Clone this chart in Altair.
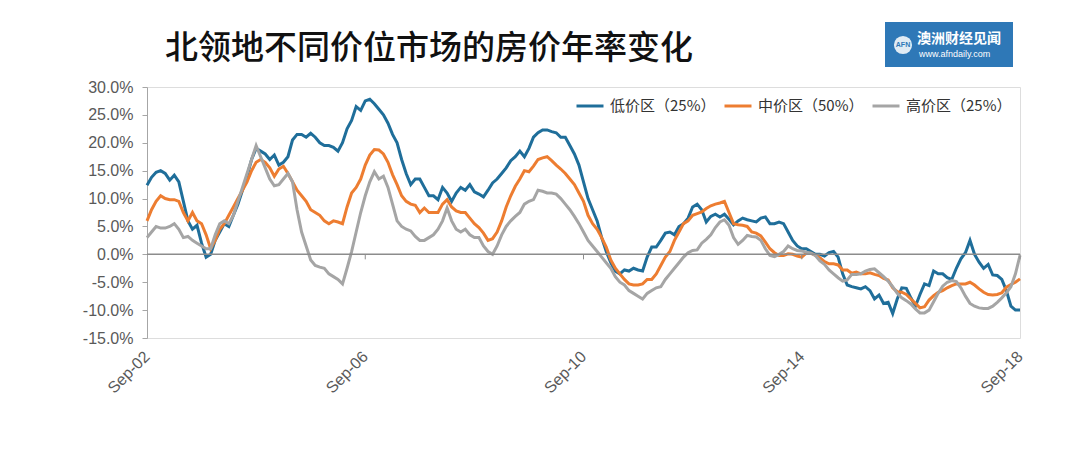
import altair as alt
import pandas as pd

# ---------------- data ----------------
series_names = ["低价区（25%）", "中价区（50%）", "高价区（25%）"]
series_colors = ["#1F6E9A", "#ED7D31", "#A5A5A5"]

x_tick_months = [0, 48, 96, 144, 192]
x_tick_labels = ["Sep-02", "Sep-06", "Sep-10", "Sep-14", "Sep-18"]
y_tick_values = [-15, -10, -5, 0, 5, 10, 15, 20, 25, 30]

# monthly values, Sep-02 .. Sep-18 (193 months), % y/y
low = [
    12.4, 13.8, 14.7, 15.0, 14.5, 13.3, 14.2, 13.0, 9.5, 6.0, 4.5, 5.2,
    2.0, -0.5, 0.0, 2.5, 4.0, 5.5, 5.0, 7.0, 9.0, 11.5, 14.0, 17.0,
    19.0, 18.5, 18.0, 17.0, 17.8, 16.0, 16.5, 17.5, 20.5, 21.5, 21.5, 21.0,
    21.7, 21.0, 20.0, 19.5, 19.5, 19.2, 18.5, 20.0, 22.5, 24.0, 26.5, 25.8,
    27.5, 27.8, 27.0, 26.0, 25.0, 23.5, 21.5, 20.0, 17.0, 14.5, 12.5, 13.5,
    13.5, 12.0, 10.5, 10.5, 9.8, 12.0, 11.0, 9.5, 11.0, 12.0, 11.5, 12.5,
    11.2, 10.8, 10.3, 11.5, 12.8, 13.5, 14.5, 15.5, 16.8, 17.5, 18.5, 17.5,
    19.0, 21.0, 21.8, 22.3, 22.3, 22.0, 21.8, 21.0, 21.0, 19.5, 18.0, 16.0,
    13.0, 10.0, 8.0, 6.0, 3.0, 0.5, -1.5, -3.0, -3.5, -2.8, -3.0, -2.5,
    -2.8, -3.0, -0.5, 1.3, 1.3, 2.5, 3.8, 4.0, 3.5, 5.0, 5.5, 6.5,
    8.5, 9.0, 8.0, 5.8, 6.8, 7.2, 6.7, 7.2, 6.3, 5.3, 6.0, 6.5,
    6.2, 6.0, 5.8, 6.5, 6.7, 5.5, 5.5, 5.8, 5.5, 4.0, 2.5, 1.5,
    1.0, 1.0, 0.5, 0.0, 0.0, -0.3, 0.3, 0.5, -0.5, -3.5, -5.5, -5.8,
    -6.0, -6.2, -5.8, -6.5, -8.0, -7.3, -8.8, -8.6, -10.6, -8.0, -6.0, -6.1,
    -7.8, -9.3, -7.2, -5.3, -5.6, -3.0, -3.5, -3.5, -4.2, -4.5, -2.5, -0.8,
    0.3, 2.5, 0.0, -1.4, -2.5, -1.8, -3.7, -3.8, -4.5, -6.5, -9.3, -10.0,
    -10.0,
]
mid = [
    6.0, 8.0, 9.5, 10.5, 10.0, 9.8, 9.8, 9.5, 7.5, 6.0, 7.5, 6.0,
    5.5, 3.5, 1.0, 2.5, 4.5, 5.5, 7.0, 8.5, 10.0, 11.5, 13.0, 15.0,
    16.5, 17.0, 16.5, 15.5, 14.0, 15.3, 15.8, 14.5, 13.0, 11.5, 10.5, 9.5,
    8.0, 7.5, 7.0, 6.0, 5.5, 6.0, 5.8, 5.5, 8.5, 11.0, 12.0, 13.5,
    16.0, 17.8, 18.8, 18.7, 18.0, 16.5, 14.3, 12.5, 10.5, 9.5, 9.0, 8.8,
    7.5, 8.3, 7.5, 7.5, 7.5, 9.0, 9.8, 8.5, 7.8, 7.5, 7.5, 6.5,
    5.5, 4.8, 3.8, 2.5, 2.8, 4.0, 6.0, 8.5, 10.5, 12.2, 13.5, 15.0,
    14.8, 15.8, 17.0, 17.3, 17.5, 16.8, 16.0, 15.3, 14.5, 13.5, 12.5, 11.0,
    9.5, 7.0, 5.5, 4.5, 3.0, 1.3, -1.0, -2.5, -3.5, -4.5, -5.3, -5.5,
    -5.5, -5.3, -4.5, -4.5, -3.5, -2.0, -0.5, 0.5, 2.5, 4.0, 5.5, 6.0,
    7.0, 7.3, 7.6, 8.2, 8.7, 9.0, 9.2, 9.5, 7.5, 5.5, 5.3, 5.2,
    5.0, 4.0, 3.8, 3.3, 2.2, 1.0, 0.3, -0.2, -0.2, 0.1, 0.0, -0.3,
    -0.5, 0.2, 0.2, -0.2, -0.6, -1.3, -1.7, -1.7, -1.9, -2.8, -2.8, -3.4,
    -3.2, -3.5, -3.5, -3.3, -3.6, -3.8, -4.3, -4.6, -6.0, -6.7, -6.8, -7.2,
    -8.0, -8.8, -9.6, -9.4, -8.2, -7.4, -6.8, -6.5, -6.0, -5.6, -5.3, -5.3,
    -5.3, -5.0, -5.5, -6.2, -6.8, -7.2, -7.3, -7.2, -6.9, -5.9, -5.4, -5.0,
    -4.4,
]
high = [
    3.0, 4.0, 5.0, 4.7, 4.7, 5.0, 5.5, 4.5, 3.0, 3.2, 2.5, 2.0,
    1.5, 1.0, 1.0, 3.5, 5.5, 6.0, 5.5, 7.0, 9.5, 12.0, 14.5, 17.0,
    19.5, 17.5, 15.5, 13.5, 12.3, 12.5, 13.5, 14.5, 13.0, 8.0, 4.0, 1.5,
    -1.0, -2.0, -2.3, -2.5, -3.5, -4.0, -4.5, -5.3, -2.5, 0.5, 4.0, 7.5,
    10.5, 13.0, 14.8, 13.5, 14.0, 12.0, 9.0, 6.0, 5.0, 4.5, 4.2, 3.2,
    2.5, 2.5, 3.0, 3.5, 4.5, 6.0, 8.3, 6.0, 4.5, 4.0, 4.5, 3.5,
    3.0, 3.0, 1.5, 0.5, 0.0, 1.5, 3.5, 5.0, 6.0, 6.8, 7.5, 9.0,
    9.5, 9.8, 11.5, 11.3, 11.0, 11.0, 10.8, 10.0, 9.0, 8.0, 6.8, 5.5,
    4.0, 2.5, 1.5, 0.5, -0.5, -1.5, -2.5, -4.0, -5.0, -5.5, -6.5, -7.0,
    -7.5, -8.0, -7.0, -6.5, -6.0, -5.8, -4.5, -3.5, -2.5, -1.5, -0.5, 0.3,
    0.7, 0.8, 2.0, 2.7, 3.5, 4.8, 5.8, 6.2, 5.2, 3.0, 1.8, 2.5,
    3.4, 3.2, 3.1, 2.5, 1.0, -0.2, -0.4, 0.0, 0.5, 1.5, 1.0, 0.7,
    0.6, 0.4, 0.2, -0.2, -1.2, -1.8, -2.8, -3.5, -4.2, -4.8, -4.6, -3.6,
    -3.6, -3.5, -3.0, -2.7, -2.6, -3.3, -4.0, -4.8, -5.8, -7.0, -7.8, -8.3,
    -8.9, -9.8, -10.5, -10.5, -10.0, -8.5, -7.0, -5.7, -5.0, -4.7, -4.9, -6.0,
    -7.5, -8.8, -9.3, -9.6, -9.7, -9.7, -9.3, -8.6, -7.8, -6.9, -5.8, -3.5,
    -0.2,
]

title_text = "北领地不同价位市场的房价年率变化"
logo_name = "澳洲财经见闻"
logo_url = "www.afndaily.com"

# ---------------- build ----------------
rows = []
for name, vals in zip(series_names, [low, mid, high]):
    for i, v in enumerate(vals):
        rows.append({"month": i, "series": name, "value": v})
df = pd.DataFrame(rows)

xscale = alt.Scale(domain=[0, 192], nice=False, zero=False)
yscale = alt.Scale(domain=[-15, 30], nice=False)

label_js = "[" + ",".join("'%s'" % s for s in x_tick_labels) + "]"

x_axis = alt.Axis(
    values=x_tick_months,
    labelExpr=label_js + "[round(datum.value/48)]",
    labelAngle=-45,
    labelAlign="right",
    labelBaseline="top",
    labelPadding=10,
    labelOffset=-6,
    labelOverlap=False,
    labelFont="Liberation Sans",
    labelFontSize=16,
    labelColor="#595959",
    domain=False,
    ticks=False,
    grid=False,
    title=None,
)
y_axis = alt.Axis(
    values=y_tick_values,
    labelExpr="(datum.value < 0 ? '-' : '') + format(abs(datum.value), '.1f') + '%'",
    labelOverlap=False,
    labelFont="Liberation Sans",
    labelFontSize=16,
    labelColor="#595959",
    labelPadding=9,
    domainColor="#A6A6A6",
    tickColor="#A6A6A6",
    tickSize=5,
    grid=False,
    title=None,
)

lines = alt.Chart(df).mark_line(strokeWidth=3).encode(
    x=alt.X("month:Q", scale=xscale, axis=x_axis),
    y=alt.Y("value:Q", scale=yscale, axis=y_axis),
    color=alt.Color(
        "series:N",
        scale=alt.Scale(domain=series_names, range=series_colors),
        legend=alt.Legend(
            orient="none",
            legendX=428,
            legendY=4,
            direction="horizontal",
            title=None,
            symbolType="stroke",
            symbolStrokeWidth=3,
            symbolSize=729,
            labelFont="Noto Sans CJK SC",
            labelFontSize=15,
            labelColor="#333333",
            labelOffset=5,
            columnPadding=2,
            gridAlign="all",
        ),
    ),
    detail="series:N",
)

zero_df = pd.DataFrame({"y": [0]})
zero_line = alt.Chart(zero_df).mark_rule(color="#8C8C8C", strokeWidth=1.5).encode(
    y=alt.Y("y:Q", scale=yscale, axis=y_axis)
)

tick_df = pd.DataFrame({"month": x_tick_months[1:], "y0": [0] * 4, "y1": [-0.9] * 4})
x_ticks = alt.Chart(tick_df).mark_rule(color="#8C8C8C", strokeWidth=1).encode(
    x=alt.X("month:Q", scale=xscale, axis=x_axis),
    y=alt.Y("y0:Q", scale=yscale, axis=y_axis),
    y2="y1:Q",
)

title = alt.Chart(pd.DataFrame({"t": [title_text]})).mark_text(
    align="left", baseline="middle", font="Noto Sans CJK SC", fontSize=33,
    fontWeight=500, color="#111111"
).encode(text="t:N", x=alt.value(18), y=alt.value(-38))

logo_box = alt.Chart(pd.DataFrame({"a": [1]})).mark_rect(color="#2E78B7").encode(
    x=alt.value(738), x2=alt.value(866), y=alt.value(-65), y2=alt.value(-20)
)
logo_circle = alt.Chart(pd.DataFrame({"a": [1]})).mark_circle(
    color="white", opacity=0.85, size=330
).encode(x=alt.value(756), y=alt.value(-42))
logo_afn = alt.Chart(pd.DataFrame({"t": ["AFN"]})).mark_text(
    font="Liberation Sans", fontSize=7, fontWeight="bold", color="#2E78B7"
).encode(text="t:N", x=alt.value(756), y=alt.value(-42))
logo_t1 = alt.Chart(pd.DataFrame({"t": [logo_name]})).mark_text(
    align="left", baseline="middle", font="Noto Sans CJK SC", fontSize=14,
    fontWeight="bold", color="white"
).encode(text="t:N", x=alt.value(770), y=alt.value(-48))
logo_t2 = alt.Chart(pd.DataFrame({"t": [logo_url]})).mark_text(
    align="left", baseline="middle", font="Liberation Sans", fontSize=9,
    color="white"
).encode(text="t:N", x=alt.value(772), y=alt.value(-33))

chart = alt.layer(
    lines, zero_line, x_ticks, title, logo_box, logo_circle, logo_afn, logo_t1, logo_t2
).properties(
    width=873,
    height=251,
    padding={"left": 139, "top": 79, "right": 52, "bottom": 110},
    autosize=alt.AutoSizeParams(type="none"),
).configure_view(stroke=None).configure(background="white")

chart.save("out.html", embed_options={"renderer": "svg", "actions": False})
